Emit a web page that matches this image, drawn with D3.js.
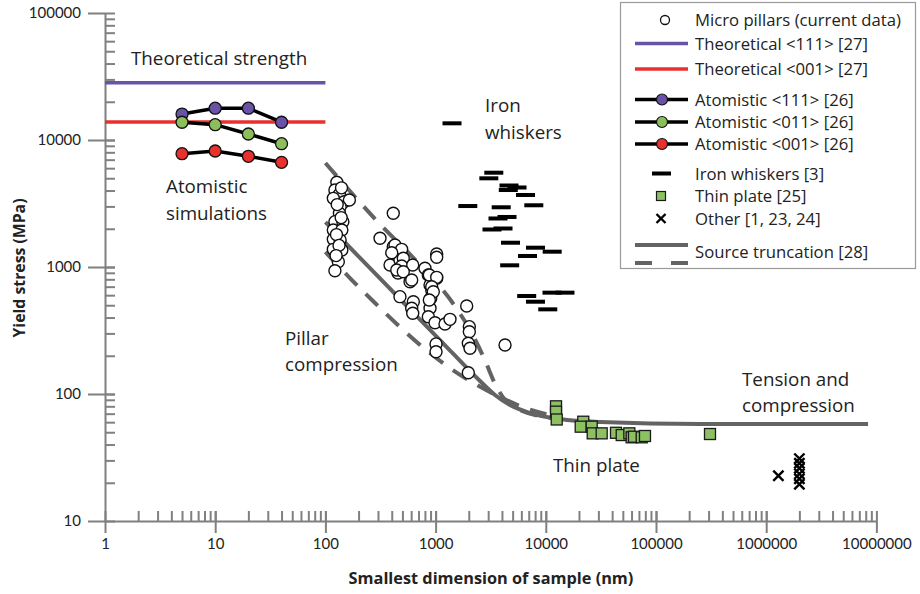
<!DOCTYPE html>
<html>
<head>
<meta charset="utf-8">
<script src="https://cdn.jsdelivr.net/npm/d3@7"></script>
<style>
  html, body { margin: 0; padding: 0; background: #fff; }
  svg { display: block; font-family: "Open Sans", Lato, sans-serif; }
</style>
</head>
<body>
<svg id="chart" width="920" height="594"></svg>
<script>
// ---- data: sample size (nm) vs. yield stress (MPa) ----
const xTicks = [1, 10, 100, 1000, 10000, 100000, 1000000, 10000000];
const yTicks = [10, 100, 1000, 10000, 100000];

const theoretical111 = [[1, 28250], [100, 28250]];
const theoretical001 = [[1, 13860], [100, 13860]];

const atomisticSizes = [5, 10, 20, 40];
const atomistic111 = [16000, 17800, 17800, 13800];
const atomistic011 = [13800, 13200, 11150, 9350];
const atomistic001 = [7800, 8190, 7440, 6670];

const microPillars = [
  [127, 4645], [122, 4038], [134, 3736], [118, 3473], [148, 3268], [165, 3373],
  [136, 2985], [134, 2649], [122, 2275], [144, 2275], [118, 1956], [141, 1956],
  [118, 1652], [136, 1632], [141, 1361], [118, 1377], [131, 1101], [122, 935],
  [128, 3100], [139, 2450], [126, 1800], [133, 1480], [125, 1230], [140, 4200],
  [413, 2649], [313, 1682], [413, 1445], [475, 1361], [386, 1037], [475, 1135],
  [456, 897], [428, 1490], [492, 1377], [400, 1296], [509, 1171], [492, 1018],
  [620, 1037], [444, 947], [509, 918], [1023, 1265], [1023, 1192], [801, 977],
  [859, 865], [1023, 815], [586, 766], [607, 790], [890, 721], [922, 659],
  [903, 567], [475, 584], [628, 533], [607, 473], [620, 432], [890, 473],
  [859, 406], [988, 364], [1217, 356], [1351, 387], [1915, 493], [2023, 339],
  [2023, 309], [1981, 251], [2052, 229], [1009, 248], [1009, 215], [877, 865],
  [1023, 829], [922, 699], [953, 639], [877, 550], [1981, 147], [4266, 243]
];

const ironWhiskers = [
  [3374, 5527], [3041, 4992], [4634, 4382], [5480, 4227], [4567, 4038],
  [6543, 3690], [1960, 3020], [3938, 2953], [7785, 3062], [3683, 2410],
  [4446, 2477], [3250, 1974], [4090, 2010], [4784, 1553], [8060, 1419],
  [11430, 1320], [6823, 1221], [4700, 1031], [6710, 591], [11380, 628],
  [14930, 628], [8060, 533], [10420, 464], [1409, 13530]
];

const thinPlate = [
  [12380, 80], [12380, 72.6], [12560, 63], [21880, 60.5], [20740, 55.3],
  [26100, 55.3], [26650, 49], [32150, 49], [43350, 49.5], [48860, 47.5],
  [57270, 49], [60150, 45.6], [63100, 46.1], [74200, 45.6], [79430, 46.7],
  [309000, 48.4]
];

const otherData = [
  [1290000, 22.7], [2000000, 31], [2000000, 28.5], [2000000, 26],
  [2000000, 23.5], [2000000, 21.5], [2000000, 19.5]
];

const truncationMean = [
  [100, 2259], [206, 1178], [475, 560], [1096, 266], [2529, 126.5],
  [3459, 98.2], [4733, 81.9], [7190, 70.8], [13450, 63.5], [31040, 60.2],
  [250600, 58.1], [8400000, 58.1]
];
const truncationUpper = [
  [100, 6590], [288, 2344], [721, 1038], [1409, 530], [2052, 319],
  [2749, 192], [3533, 116], [4266, 89.7], [5834, 74.8], [13450, 63.5]
];
const truncationLower = [
  [100, 1313], [167, 818], [282, 521], [475, 337], [801, 226], [1351, 160],
  [2278, 120], [3840, 94.7], [6476, 77.6], [13450, 65.9]
];

const legendItems = [
  "Micro pillars (current data)", "Theoretical <111> [27]", "Theoretical <001> [27]",
  "Atomistic <111> [26]", "Atomistic <011> [26]", "Atomistic <001> [26]",
  "Iron whiskers [3]", "Thin plate [25]", "Other [1, 23, 24]", "Source truncation [28]"
];

// ---- styles ----
const C = {
  axis: "#808080", text: "#222", purple: "#6a52a8", red: "#e8302c",
  green: "#8cbf5c", curve: "#636363", plate: "#8cc063"
};

const svg = d3.select("#chart");
const x = d3.scaleLog().domain([1, 1e7]).range([105, 876.4]);
const y = d3.scaleLog().domain([10, 1e5]).range([521, 13]);

// ---- axes ----
function minorValues(domain) {
  const out = [];
  for (let d = domain[0]; d < domain[1]; d *= 10)
    for (let k = 1; k <= 10; k++) out.push(d * k);
  return out;
}
const fmt = d => String(d);

const gx = svg.append("g").attr("transform", "translate(0,521)");
gx.call(d3.axisTop(x).tickValues(minorValues([1, 1e7])).tickSize(10).tickSizeOuter(0).tickFormat(""));
gx.call(g => g.select(".domain").remove());
svg.append("g").attr("transform", "translate(0,521)")
  .call(d3.axisBottom(x).tickValues(xTicks).tickSize(12).tickSizeOuter(0).tickPadding(5).tickFormat(fmt));

const gy = svg.append("g").attr("transform", "translate(105,0)");
gy.call(d3.axisRight(y).tickValues(minorValues([10, 1e5])).tickSize(10).tickSizeOuter(0).tickFormat(""));
gy.call(g => g.select(".domain").remove());
svg.append("g").attr("transform", "translate(105,0)")
  .call(d3.axisLeft(y).tickValues(yTicks).tickSize(17).tickSizeOuter(0).tickPadding(7).tickFormat(fmt));

svg.selectAll(".domain, .tick line").attr("stroke", C.axis).attr("stroke-width", 2);
svg.selectAll(".tick text").attr("fill", C.text).style("font-size", "15px")
  .style("font-family", "Lato, sans-serif");

svg.append("text").attr("x", 491).attr("y", 584).attr("text-anchor", "middle")
  .attr("fill", C.text).style("font-size", "16.3px").style("font-weight", "bold")
  .text("Smallest dimension of sample (nm)");
svg.append("text").attr("transform", "translate(25,268) rotate(-90)").attr("text-anchor", "middle")
  .attr("fill", C.text).style("font-size", "15.8px").style("font-weight", "bold")
  .text("Yield stress (MPa)");

// ---- source truncation curves ----
const line = d3.line().x(d => x(d[0])).y(d => y(d[1])).curve(d3.curveMonotoneX);
svg.append("path").datum(truncationUpper).attr("d", line).attr("fill", "none")
  .attr("stroke", C.curve).attr("stroke-width", 4).attr("stroke-dasharray", "17,12");
svg.append("path").datum(truncationLower).attr("d", line).attr("fill", "none")
  .attr("stroke", C.curve).attr("stroke-width", 4).attr("stroke-dasharray", "17,12");
svg.append("path").datum(truncationMean).attr("d", line).attr("fill", "none")
  .attr("stroke", C.curve).attr("stroke-width", 4);

// ---- theoretical strength ----
const straight = d3.line().x(d => x(d[0])).y(d => y(d[1]));
svg.append("path").datum(theoretical111).attr("d", straight).attr("stroke", C.purple).attr("stroke-width", 3.5);
svg.append("path").datum(theoretical001).attr("d", straight).attr("stroke", C.red).attr("stroke-width", 3.5);

// ---- atomistic simulations ----
[[atomistic111, C.purple], [atomistic011, C.green], [atomistic001, C.red]].forEach(([vals, col]) => {
  const pts = atomisticSizes.map((s, i) => [s, vals[i]]);
  svg.append("path").datum(pts).attr("d", straight).attr("fill", "none")
    .attr("stroke", "#000").attr("stroke-width", 3.5);
  svg.append("g").selectAll("circle").data(pts).join("circle")
    .attr("cx", d => x(d[0])).attr("cy", d => y(d[1])).attr("r", 6)
    .attr("fill", col).attr("stroke", "#111").attr("stroke-width", 1.3);
});

// ---- micro pillars ----
svg.append("g").selectAll("circle").data(microPillars).join("circle")
  .attr("cx", d => x(d[0])).attr("cy", d => y(d[1])).attr("r", 6)
  .attr("fill", "#fff").attr("stroke", "#111").attr("stroke-width", 1.4);

// ---- iron whiskers ----
svg.append("g").selectAll("rect").data(ironWhiskers).join("rect")
  .attr("x", d => x(d[0]) - 9.5).attr("y", d => y(d[1]) - 2).attr("width", 19).attr("height", 4)
  .attr("fill", "#000");

// ---- thin plate ----
svg.append("g").selectAll("rect").data(thinPlate).join("rect")
  .attr("x", d => x(d[0]) - 5.5).attr("y", d => y(d[1]) - 5.5).attr("width", 11).attr("height", 11)
  .attr("fill", C.plate).attr("stroke", "#1a1a1a").attr("stroke-width", 1.3);

// ---- other ----
const cross = d3.symbol().type(d3.symbolX).size(70);
svg.append("g").selectAll("path").data(otherData).join("path")
  .attr("transform", d => `translate(${x(d[0])},${y(d[1])})`).attr("d", cross)
  .attr("fill", "none").attr("stroke", "#000").attr("stroke-width", 2.4);

// ---- annotations ----
const notes = [
  ["Theoretical strength", 131, 65], ["Atomistic", 166, 193], ["simulations", 166, 220],
  ["Iron", 485, 112], ["whiskers", 485, 139], ["Pillar", 285, 345], ["compression", 285, 371],
  ["Tension and", 742, 386], ["compression", 742, 412], ["Thin plate", 553, 472]
];
svg.append("g").selectAll("text").data(notes).join("text")
  .attr("x", d => d[1]).attr("y", d => d[2]).attr("fill", C.text)
  .style("font-size", "18.8px").text(d => d[0]);

// ---- legend ----
const lg = svg.append("g");
lg.append("rect").attr("x", 620.5).attr("y", 2.5).attr("width", 295).attr("height", 266)
  .attr("fill", "#fff").attr("stroke", "#9a9a9a").attr("stroke-width", 1.2);
const rowY = [20, 43.5, 69, 99.5, 122, 144, 173.5, 196, 218.5, 251.5];
const kx0 = 635, kx1 = 688, kc = 662;
lg.selectAll("text").data(legendItems).join("text")
  .attr("x", 695).attr("y", (d, i) => rowY[i] + 6).attr("fill", C.text)
  .style("font-size", "16.7px").text(d => d);
lg.append("circle").attr("cx", 665).attr("cy", rowY[0]).attr("r", 4.5)
  .attr("fill", "#fff").attr("stroke", "#111").attr("stroke-width", 1.3);
lg.append("line").attr("x1", kx0).attr("x2", kx1).attr("y1", rowY[1]).attr("y2", rowY[1])
  .attr("stroke", C.purple).attr("stroke-width", 3.5);
lg.append("line").attr("x1", kx0).attr("x2", kx1).attr("y1", rowY[2]).attr("y2", rowY[2])
  .attr("stroke", C.red).attr("stroke-width", 3.5);
[[3, C.purple], [4, C.green], [5, C.red]].forEach(([i, col]) => {
  lg.append("line").attr("x1", kx0).attr("x2", kx1).attr("y1", rowY[i]).attr("y2", rowY[i])
    .attr("stroke", "#000").attr("stroke-width", 3.5);
  lg.append("circle").attr("cx", kc).attr("cy", rowY[i]).attr("r", 5.5)
    .attr("fill", col).attr("stroke", "#111").attr("stroke-width", 1.2);
});
lg.append("rect").attr("x", 652).attr("y", rowY[6] - 2).attr("width", 19).attr("height", 4).attr("fill", "#000");
lg.append("rect").attr("x", 661 - 4.5).attr("y", rowY[7] - 4.5).attr("width", 9).attr("height", 9)
  .attr("fill", C.plate).attr("stroke", "#1a1a1a").attr("stroke-width", 1.2);
lg.append("path").attr("transform", `translate(661,${rowY[8]})`).attr("d", d3.symbol().type(d3.symbolX).size(55))
  .attr("fill", "none").attr("stroke", "#000").attr("stroke-width", 2.4);
lg.append("line").attr("x1", kx0).attr("x2", kx1).attr("y1", 245).attr("y2", 245)
  .attr("stroke", C.curve).attr("stroke-width", 4);
lg.append("line").attr("x1", kx0).attr("x2", kx1).attr("y1", 263).attr("y2", 263)
  .attr("stroke", C.curve).attr("stroke-width", 4).attr("stroke-dasharray", "17,19");
</script>
</body>
</html>
